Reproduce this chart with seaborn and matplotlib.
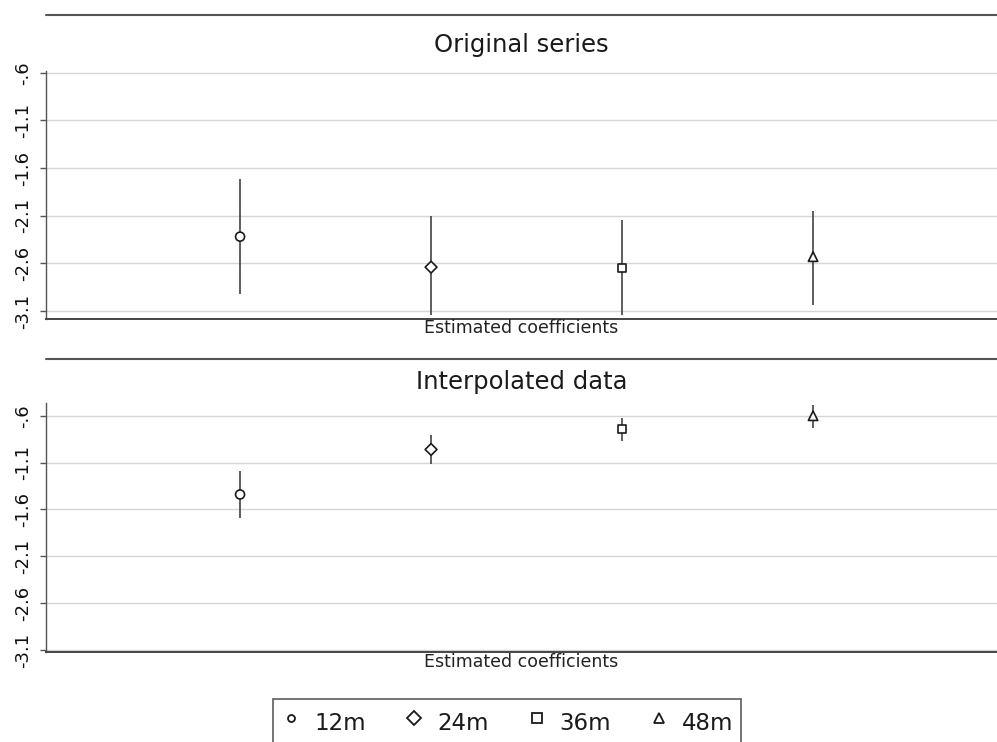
import matplotlib
matplotlib.use("Agg")
import matplotlib.pyplot as plt
from matplotlib.lines import Line2D
import seaborn as sns
import pandas as pd

# ---- data ----
horizons = ["12m", "24m", "36m", "48m"]
orig_est = [-2.32, -2.64, -2.65, -2.53]
orig_lo = [-2.92, -3.14, -3.14, -3.04]
orig_hi = [-1.72, -2.10, -2.15, -2.05]
interp_est = [-1.44, -0.96, -0.745, -0.60]
interp_lo = [-1.69, -1.11, -0.87, -0.73]
interp_hi = [-1.19, -0.81, -0.62, -0.49]
yticks = [-3.1, -2.6, -2.1, -1.6, -1.1, -0.6]
ytick_labels = ["-3.1", "-2.6", "-2.1", "-1.6", "-1.1", "-.6"]
panel_titles = ["Original series", "Interpolated data"]
xlabel_text = "Estimated coefficients"

sns.set_theme(style="white")
plt.rcParams["font.family"] = ["DejaVu Sans"]

W, H = 997, 742
fig = plt.figure(figsize=(W / 100, H / 100), dpi=100)
fig.patch.set_facecolor("white")

markers = {"12m": "o", "24m": "D", "36m": "s", "48m": "^"}
sizes = {"12m": 42, "24m": 36, "36m": 36, "48m": 46}

panels = [
    dict(est=orig_est, lo=orig_lo, hi=orig_hi, top=71, bottom=319, strip=14.7,
         title_y=45, xl_y=328, ylim=(-3.184, -0.582)),
    dict(est=interp_est, lo=interp_lo, hi=interp_hi, top=403, bottom=651.7, strip=359,
         title_y=382, xl_y=662, ylim=(-3.118, -0.464)),
]

left_px, right_px = 46, 997
for p, title in zip(panels, panel_titles):
    ax = fig.add_axes([left_px / W, 1 - p["bottom"] / H, (right_px - left_px) / W,
                       (p["bottom"] - p["top"]) / H])
    df = pd.DataFrame({"horizon": horizons, "pos": range(len(horizons)),
                       "est": p["est"], "lo": p["lo"], "hi": p["hi"]})
    ax.vlines(df["pos"], df["lo"], df["hi"], color="#333333", lw=1.1, zorder=2)
    sns.scatterplot(data=df, x="pos", y="est", style="horizon", markers=markers,
                    size="horizon", sizes=sizes, color="white", edgecolor="#1a1a1a",
                    linewidth=1.2, legend=False, ax=ax, zorder=3)
    ax.set_xlim(-1.016, 3.963)
    ax.set_ylim(*p["ylim"])
    ax.set_yticks(yticks)
    ax.set_yticklabels(ytick_labels, rotation=90, va="center", fontsize=13, color="#111")
    ax.set_xticks([])
    ax.set_xlabel("")
    ax.set_ylabel("")
    ax.grid(axis="y", color="#d6d6d6", lw=1.0)
    ax.set_axisbelow(True)
    for s in ["top", "right"]:
        ax.spines[s].set_visible(False)
    ax.spines["left"].set_color("#555")
    ax.spines["left"].set_linewidth(1.0)
    ax.spines["bottom"].set_color("#444")
    ax.spines["bottom"].set_linewidth(1.4)
    ax.tick_params(axis="y", length=4, width=1, color="#555", pad=6, left=True)
    h = p["bottom"] - p["top"]
    ax.text(0.5, (p["bottom"] - p["title_y"]) / h, title, transform=ax.transAxes,
            ha="center", va="center", fontsize=17.5, color="#1a1a1a")
    ax.text(0.5, (p["bottom"] - p["xl_y"]) / h, xlabel_text, transform=ax.transAxes,
            ha="center", va="center", fontsize=12.5, color="#222")
    fig.add_artist(Line2D([left_px / W, 1.0], [1 - p["strip"] / H, 1 - p["strip"] / H],
                          transform=fig.transFigure, color="#555", lw=1.5))

leg_ms = {"12m": 5, "24m": 7.5, "36m": 7, "48m": 7.5}
handles = [Line2D([], [], ls="none", marker=markers[k], markersize=leg_ms[k],
                  markerfacecolor="white", markeredgecolor="#1a1a1a", markeredgewidth=1.3)
           for k in horizons]
leg = fig.legend(handles, horizons, loc="upper left",
                 bbox_to_anchor=(273 / W, 1 - 699 / H), bbox_transform=fig.transFigure,
                 ncol=4, fontsize=16.5, frameon=True, fancybox=False, shadow=False,
                 handlelength=1.0, handletextpad=0.5, columnspacing=1.6,
                 borderpad=0.3, borderaxespad=0, handleheight=1.9)
leg.get_frame().set_edgecolor("#333")
leg.get_frame().set_linewidth(1.2)
for t in leg.get_texts():
    t.set_color("#1a1a1a")

fig.savefig("out.png", dpi=100, facecolor="white")
